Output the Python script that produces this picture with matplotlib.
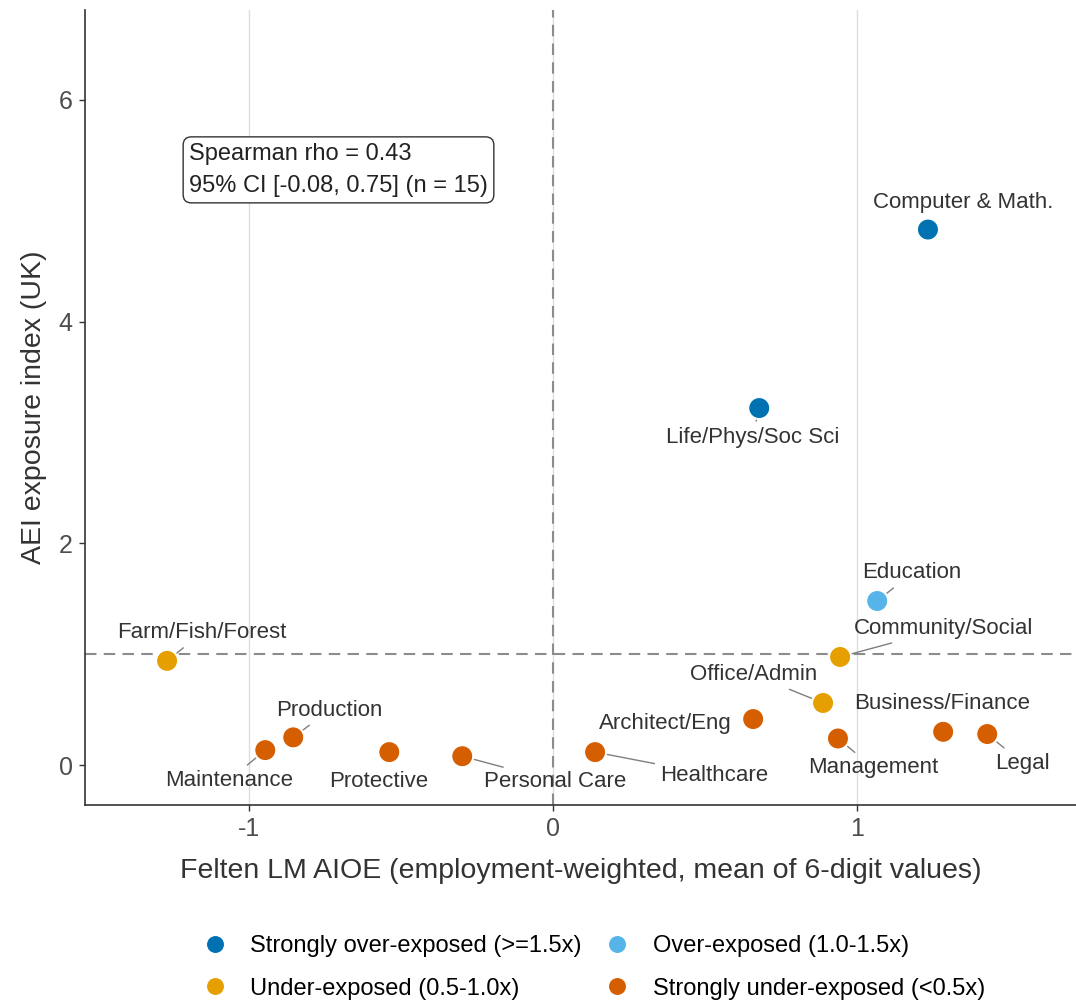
import matplotlib
matplotlib.use("Agg")
import matplotlib.pyplot as plt
from matplotlib.lines import Line2D

plt.rcParams['font.family'] = ['Liberation Sans', 'DejaVu Sans']

# ---- data ----
occupations = ["Computer & Math.", "Life/Phys/Soc Sci", "Education", "Community/Social",
               "Office/Admin", "Business/Finance", "Legal", "Management", "Architect/Eng",
               "Healthcare", "Personal Care", "Protective", "Maintenance", "Production",
               "Farm/Fish/Forest"]
felten_aioe = [1.233, 0.678, 1.066, 0.944, 0.888, 1.283, 1.428, 0.937, 0.658,
               0.138, -0.299, -0.539, -0.947, -0.855, -1.27]
aei_index = [4.83, 3.22, 1.48, 0.975, 0.56, 0.30, 0.28, 0.24, 0.415,
             0.117, 0.08, 0.117, 0.135, 0.25, 0.94]
groups = ["Strongly over-exposed (>=1.5x)", "Strongly over-exposed (>=1.5x)",
          "Over-exposed (1.0-1.5x)", "Under-exposed (0.5-1.0x)", "Under-exposed (0.5-1.0x)",
          "Strongly under-exposed (<0.5x)", "Strongly under-exposed (<0.5x)",
          "Strongly under-exposed (<0.5x)", "Strongly under-exposed (<0.5x)",
          "Strongly under-exposed (<0.5x)", "Strongly under-exposed (<0.5x)",
          "Strongly under-exposed (<0.5x)", "Strongly under-exposed (<0.5x)",
          "Strongly under-exposed (<0.5x)", "Under-exposed (0.5-1.0x)"]
group_order = ["Strongly over-exposed (>=1.5x)", "Over-exposed (1.0-1.5x)",
               "Under-exposed (0.5-1.0x)", "Strongly under-exposed (<0.5x)"]
group_colors = ["#0072B2", "#56B4E9", "#E69F00", "#D55E00"]
stat_text = "Spearman rho = 0.43\n95% CI [-0.08, 0.75] (n = 15)"
x_ticks = [-1, 0, 1]
y_ticks = [0, 2, 4, 6]

# label placement (offset pixels from point) and whether a connector is drawn
label_offsets = [(35, 27), (-7, -29), (35, 28), (103, 28), (-69, 28), (-1, 28),
                 (35, -29), (35, -29), (-88, -4), (119, -23), (93, -25), (-11, -29),
                 (-36, -30), (36, 27), (35, 28)]
draw_segment = [False, True, True, True, True, False, True, True, False,
                True, True, False, True, True, True]

fig = plt.figure(figsize=(10.76, 10.0), dpi=100)
ax = fig.add_axes([0.079, 0.195, 0.921, 0.795])

color_map = dict(zip(group_order, group_colors))
ax.axvline(0, color="#8c8c8c", ls=(0, (5.5, 3.5)), lw=1.5, zorder=1)
ax.axhline(1, color="#8c8c8c", ls=(0, (5.5, 3.5)), lw=1.5, zorder=1)

ax.scatter(felten_aioe, aei_index, s=230, c=[color_map[g] for g in groups],
           edgecolors="white", linewidths=0.8, zorder=3)

for name, x, y, off, seg in zip(occupations, felten_aioe, aei_index, label_offsets, draw_segment):
    kw = {}
    if seg:
        kw["arrowprops"] = dict(arrowstyle="-", color="#7f7f7f", lw=1.0,
                                shrinkA=2, shrinkB=9)
    ax.annotate(name, xy=(x, y), xytext=off, textcoords="offset pixels",
                ha="center", va="center", fontsize=16, color="#333333", zorder=4, **kw)

ax.text(0.105, 0.833, stat_text, transform=ax.transAxes, ha="left", va="top",
        fontsize=17, color="#222222", linespacing=1.6,
        bbox=dict(boxstyle="round,pad=0.25,rounding_size=0.35", fc="white",
                  ec="#333333", lw=1.0))

ax.set_xlim(-1.54, 1.72)
ax.set_ylim(-0.36, 6.81)
ax.set_xticks(x_ticks)
ax.set_yticks(y_ticks)
ax.set_xticklabels([str(t) for t in x_ticks])
ax.set_yticklabels([str(t) for t in y_ticks])
ax.grid(axis="x", color="#dddddd", lw=1.0, zorder=0)
ax.set_axisbelow(True)
for s in ["top", "right"]:
    ax.spines[s].set_visible(False)
for s in ["left", "bottom"]:
    ax.spines[s].set_color("#333333")
    ax.spines[s].set_linewidth(1.2)
ax.tick_params(axis="both", labelsize=18, colors="#333333", length=4, width=1.0, pad=5)
ax.tick_params(axis="both", labelcolor="#4d4d4d")
ax.set_xlabel("Felten LM AIOE (employment-weighted, mean of 6-digit values)",
              fontsize=20.5, color="#333333", labelpad=12)
ax.set_ylabel("AEI exposure index (UK)", fontsize=20.5, color="#333333", labelpad=8)

handles = [Line2D([], [], marker="o", ls="", markersize=13, markerfacecolor=c,
                  markeredgecolor="white", markeredgewidth=0.8) for c in group_colors]
order = [0, 2, 1, 3]
fig.legend([handles[i] for i in order], [group_order[i] for i in order],
           loc="center", bbox_to_anchor=(0.552, 0.0325), ncol=2, frameon=False,
           fontsize=17, handletextpad=1.0, columnspacing=1.0, labelspacing=0.85,
           handlelength=1.0)

fig.savefig("out.png", dpi=100)
